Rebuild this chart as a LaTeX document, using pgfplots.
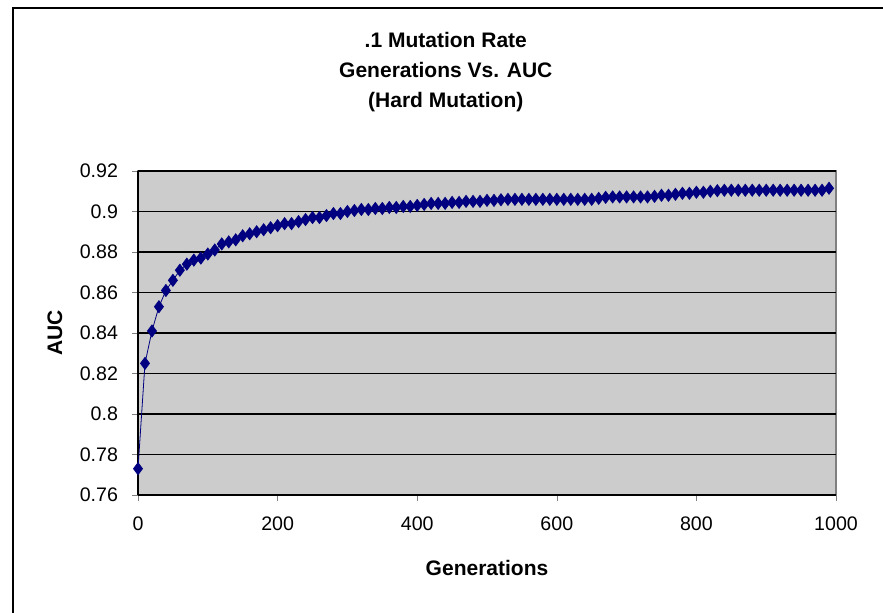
\documentclass[border=0pt]{standalone}
\usepackage{fontspec}
\setmainfont{Liberation Sans}
\usepackage{pgfplots}
\pgfplotsset{compat=1.18}
\usepackage{pgfplotstable}

\definecolor{plotbg}{RGB}{204,204,204}
\definecolor{navyblue}{RGB}{0,0,128}
\definecolor{edgegray}{RGB}{128,128,128}

\pgfplotstableread{
gen auc
0 0.773
10 0.825
20 0.841
30 0.853
40 0.861
50 0.866
60 0.871
70 0.874
80 0.876
90 0.877
100 0.879
110 0.881
120 0.884
130 0.885
140 0.886
150 0.888
160 0.889
170 0.890
180 0.891
190 0.892
200 0.893
210 0.894
220 0.894
230 0.895
240 0.896
250 0.897
260 0.897
270 0.898
280 0.899
290 0.899
300 0.900
310 0.9005
320 0.901
330 0.901
340 0.9015
350 0.9015
360 0.902
370 0.902
380 0.9025
390 0.9025
400 0.903
410 0.9035
420 0.904
430 0.904
440 0.904
450 0.9045
460 0.9045
470 0.905
480 0.905
490 0.905
500 0.9055
510 0.9055
520 0.9058
530 0.906
540 0.906
550 0.906
560 0.906
570 0.906
580 0.906
590 0.906
600 0.906
610 0.906
620 0.906
630 0.906
640 0.906
650 0.906
660 0.9065
670 0.907
680 0.9072
690 0.9072
700 0.9072
710 0.9072
720 0.9072
730 0.9072
740 0.9075
750 0.908
760 0.908
770 0.9085
780 0.909
790 0.909
800 0.9095
810 0.9095
820 0.910
830 0.9103
840 0.9105
850 0.9105
860 0.9105
870 0.9105
880 0.9105
890 0.9105
900 0.9105
910 0.9105
920 0.9105
930 0.9105
940 0.9105
950 0.9105
960 0.9105
970 0.9105
980 0.9105
990 0.9115
}\auctable

\begin{document}
\begin{tikzpicture}
% page is 883 x 612 px, 1 px = 0.5pt
\useasboundingbox (0,0) rectangle (441.5pt,306pt);
\draw[line width=1pt] (6.5pt,-20pt) rectangle (460pt,302pt);
\begin{axis}[
    at={(69pt,58.5pt)}, anchor=south west,
    scale only axis,
    width=349pt, height=162pt,
    xmin=0, xmax=1000,
    ymin=0.76, ymax=0.92,
    xtick={0,200,...,1000},
    ytick={0.76,0.78,...,0.92},
    scaled y ticks=false,
    tick label style={font=\fontsize{9.8}{11}\selectfont},
    xticklabel style={yshift=-4.5pt, /pgf/number format/1000 sep={}},
    yticklabel style={xshift=-3.5pt, /pgf/number format/fixed,
        /pgf/number format/precision=2},
    /pgf/number format/assume math mode=true,
    tick align=outside,
    major tick length=3pt,
    xtick pos=left, ytick pos=left,
    axis x line*=bottom, axis y line*=left,
    axis line style={-, black, line width=0.6pt},
    axis background/.style={fill=plotbg, draw=edgegray, line width=0.8pt},
    ymajorgrids,
    major grid style={black, line width=0.6pt},
    title={.1 Mutation Rate\\Generations Vs. AUC\\(Hard Mutation)},
    title style={at={(axis description cs:0.441,1.269)}, anchor=center,
        yshift=0pt, align=center, font=\bfseries\fontsize{10.5}{15}\selectfont},
    xlabel={Generations},
    xlabel style={at={(axis description cs:0.5,-0.225)}, anchor=center,
        font=\bfseries\fontsize{10.5}{12}\selectfont},
    ylabel={AUC},
    ylabel style={at={(axis description cs:-0.119,0.5)}, anchor=center,
        font=\bfseries\fontsize{10.5}{12}\selectfont},
]
\addplot[navyblue, line width=0.4pt, mark=diamond*,
    mark size=3pt, mark options={fill=navyblue, draw=navyblue}]
    table[x=gen, y=auc] {\auctable};
\end{axis}
\end{tikzpicture}
\end{document}
